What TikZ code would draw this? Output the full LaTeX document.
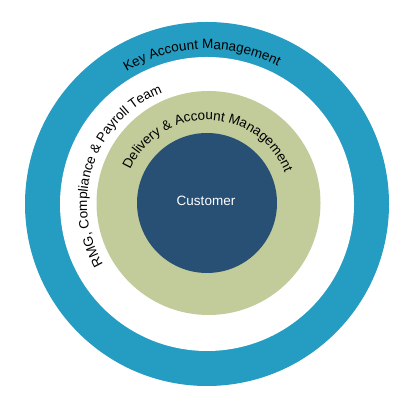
\documentclass[tikz,border=0pt]{standalone}
\usepackage{fontspec}
\setmainfont{Liberation Sans}
\usetikzlibrary{decorations.text,calc}
\definecolor{ringteal}{HTML}{259CC1}
\definecolor{ringgreen}{HTML}{C2CC9A}
\definecolor{corenavy}{HTML}{284F74}
\begin{document}
\begin{tikzpicture}[x=1pt,y=1pt,
  ringdisc/.style={circle, inner sep=0pt, draw=none},
  arclabel/.style={decorate, decoration={text along path, text align=center,
     text={|\fontsize{13.5pt}{16pt}\selectfont|#1}}}]
\useasboundingbox (0,0) rectangle (406,406);
\coordinate (c) at (207,202);
\node[ringdisc, fill=ringteal, minimum size=364pt] (keyring) at (c) {};
\node[ringdisc, fill=white, minimum size=294pt] (rmgring) at (c) {};
\node[ringdisc, fill=ringgreen, minimum size=224pt] (deliveryring) at ($(c)+(1.5,1)$) {};
\node[ringdisc, fill=corenavy, minimum size=140pt] (customer) at ($(c)+(0,1)$) {};
\node[text=white, font=\fontsize{13.5pt}{16pt}\selectfont] (customerlabel) at ($(c)+(-1,3)$) {Customer};
\path[arclabel={Key Account Management}] ($(c)+(172:155pt)$) arc[start angle=172, end angle=12, radius=155pt];
\path[arclabel={RMG, Compliance {\&} Payroll Team}] ($(c)+(250:120pt)$) arc[start angle=250, end angle=72, radius=120pt];
\path[arclabel={Delivery {\&} Account Management}] ($(c)+(179:84pt)$) arc[start angle=179, end angle=-1, radius=84pt];
\end{tikzpicture}
\end{document}
